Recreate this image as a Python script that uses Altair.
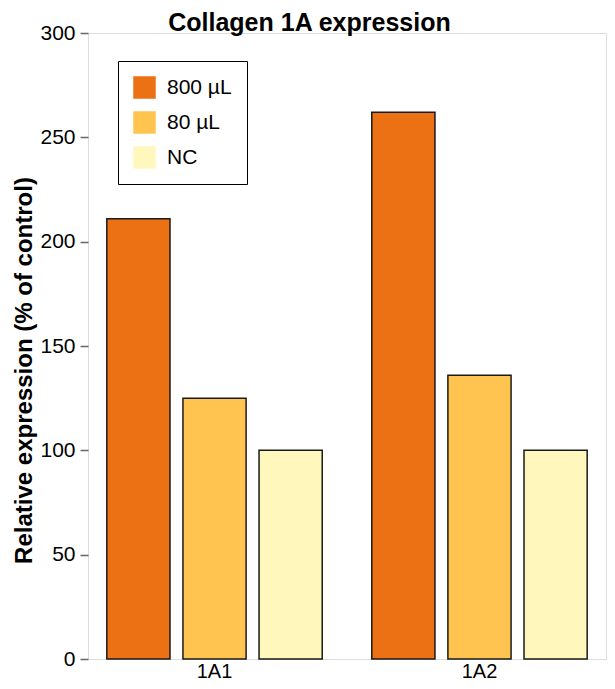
import altair as alt
import pandas as pd

groups = ["1A1", "1A2"]
treatments = ["800 µL", "80 µL", "NC"]
values_1a1 = [211, 125, 100]
values_1a2 = [262, 136, 100]
colors = ["#EC7014", "#FEC44F", "#FFF7BC"]

rows = []
for g, vals in zip(groups, [values_1a1, values_1a2]):
    for t, v in zip(treatments, vals):
        rows.append({"group": g, "treatment": t, "value": v})
df = pd.DataFrame(rows)

font = "Liberation Sans"

chart = alt.Chart(df).mark_bar(stroke="#1a1a1a", strokeWidth=1.5).encode(
    x=alt.X("group:N", sort=groups, title=None,
            scale=alt.Scale(paddingInner=0.187, paddingOuter=0.071),
            axis=alt.Axis(labelAngle=0, ticks=False, domain=False, labelFontSize=20,
                          labelColor="black", labelFont=font, labelPadding=2)),
    xOffset=alt.XOffset("treatment:N", sort=treatments,
                        scale=alt.Scale(paddingInner=0.17, paddingOuter=0.0)),
    y=alt.Y("value:Q", title="Relative expression (% of control)",
            scale=alt.Scale(domain=[0, 300], nice=False),
            axis=alt.Axis(values=[0, 50, 100, 150, 200, 250, 300], grid=False,
                          domain=False, tickColor="#666", tickSize=8, tickWidth=1.5,
                          labelFontSize=21, labelColor="black", labelFont=font,
                          titleFontSize=24, titleFont=font, titleFontWeight="bold",
                          titleColor="black", labelPadding=5, titlePadding=3,
                          titleY=337)),
    color=alt.Color("treatment:N", sort=treatments,
                    scale=alt.Scale(domain=treatments, range=colors),
                    legend=alt.Legend(title=None, orient="none", legendX=30, legendY=28,
                                      symbolType="square", symbolSize=506,
                                      symbolStrokeWidth=0, labelFontSize=21,
                                      labelFont=font, labelColor="black",
                                      labelOffset=11,
                                      strokeColor="black", padding=15,
                                      rowPadding=12, fillColor="white")),
).properties(
    width=518,
    height=626,
    title=alt.TitleParams("Collagen 1A expression", fontSize=25, font=font,
                          fontWeight="bold", color="black", offset=1, dy=15,
                          anchor="middle", frame="bounds"),
).configure_view(
    stroke="black", strokeWidth=1.6
).configure(
    autosize="none",
    padding={"left": 80, "top": 25, "right": 1, "bottom": 22},
)

chart.save("out.html", embed_options={"renderer": "svg", "actions": False})
